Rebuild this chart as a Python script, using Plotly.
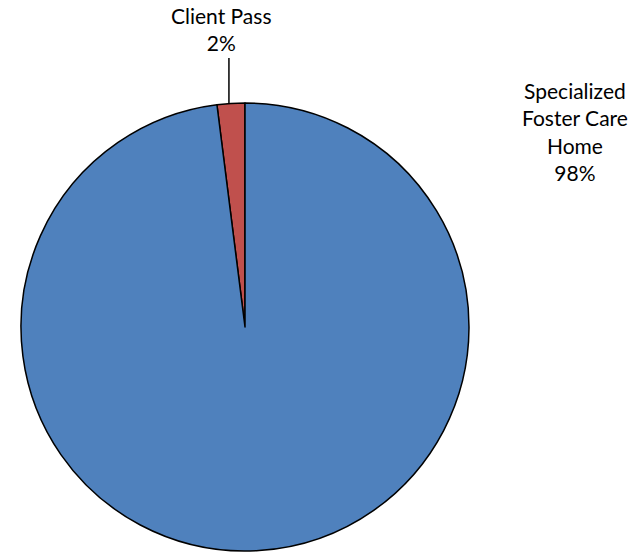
import math
import plotly.graph_objects as go

# Placement type shares (percent)
labels = ["Client Pass", "Specialized Foster Care Home"]
values = [2, 98]
label_lines = [["Client Pass"], ["Specialized", "Foster Care", "Home"]]
colors = ["#C0504D", "#4F81BD"]

W, H = 644, 553
cx, cy, r = 245, 327, 224  # pie centre and radius in pixels

total = sum(values)
# Client Pass slice ends at 12 o'clock, lying just to its left
start_angle = -360 * values[0] / total

fig = go.Figure(go.Pie(
    labels=labels,
    values=values,
    sort=False,
    direction="clockwise",
    rotation=start_angle,
    textinfo="none",
    hoverinfo="label+percent",
    marker=dict(colors=colors, line=dict(color="black", width=1.5)),
    domain=dict(x=[(cx - r) / W, (cx + r) / W],
                y=[1 - (cy + r) / H, 1 - (cy - r) / H]),
    showlegend=False,
))

texts = ["<br>".join(lines + [f"{round(100 * v / total)}%"])
         for lines, v in zip(label_lines, values)]

font = dict(family="Lato, Carlito, sans-serif", size=21, color="black")

# Client Pass label above the pie, with a leader line to its slice
fig.add_annotation(x=221 / W, y=1 - 1 / H, xref="paper", yref="paper",
                   text=texts[0], showarrow=False, xanchor="center",
                   yanchor="top", font=font, align="center")
mid = 2 * math.pi * (values[0] / 2) / total
lx = cx - r * math.sin(mid) - 2
ly = cy - r * math.cos(mid)
fig.add_shape(type="line", xref="paper", yref="paper",
              x0=lx / W, x1=lx / W, y0=1 - 58 / H, y1=1 - ly / H,
              line=dict(color="black", width=1.5))

# Specialized Foster Care Home label to the upper right
fig.add_annotation(x=575 / W, y=1 - 76 / H, xref="paper", yref="paper",
                   text=texts[1], showarrow=False, xanchor="center",
                   yanchor="top", font=font, align="center")

fig.update_layout(width=W, height=H, margin=dict(l=0, r=0, t=0, b=0),
                  paper_bgcolor="white", plot_bgcolor="white")

fig.write_html("out.html")
